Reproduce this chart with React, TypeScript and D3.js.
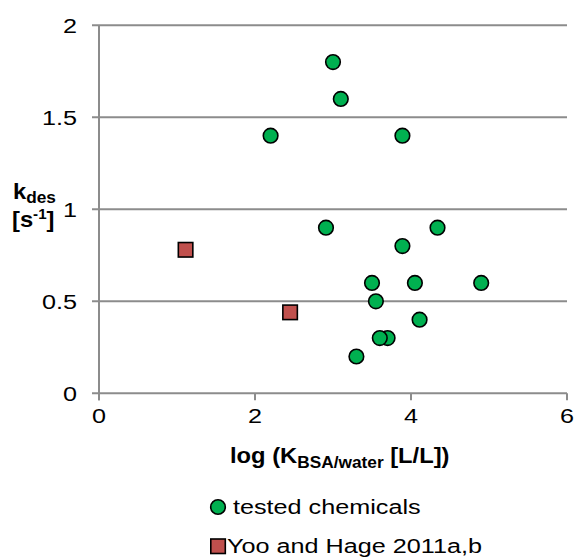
import React from "react";
import * as d3 from "d3";

// Tested chemicals: log K(BSA/water) vs desorption rate constant
const testedX = [3.0, 3.1, 2.2, 3.89, 2.91, 4.34, 3.89, 3.5, 4.05, 4.9, 3.55, 4.11, 3.7, 3.6, 3.3];
const testedY = [1.8, 1.6, 1.4, 1.4, 0.9, 0.9, 0.8, 0.6, 0.6, 0.6, 0.5, 0.4, 0.3, 0.3, 0.2];

// Literature values (Yoo and Hage 2011a,b)
const yooX = [1.11, 2.45];
const yooY = [0.78, 0.44];

const xTicks = [0, 2, 4, 6];
const yTicks = [0, 0.5, 1, 1.5, 2];
const yTickLabels = ["0", "0.5", "1", "1.5", "2"];

const legendLabels = ["tested chemicals", "Yoo and Hage 2011a,b"];

const W = 576;
const H = 558;
const FONT = "'Liberation Sans', Arial, sans-serif";
const AXIS = "#8c8c8c";
const SX = 1.2; // wide rendering of the regular labels

function Wide({ x, y, sx = SX, children }: { x: number; y: number; sx?: number; children: React.ReactNode }) {
  return <g transform={`translate(${x},${y}) scale(${sx},1)`}>{children}</g>;
}

export default function App() {
  const x = d3.scaleLinear().domain([0, 6]).range([99, 567]);
  const y = d3.scaleLinear().domain([0, 2]).range([393.3, 25.3]);

  const tested = testedX.map((v, i) => ({ x: v, y: testedY[i] }));
  const yoo = yooX.map((v, i) => ({ x: v, y: yooY[i] }));
  const sq = 14.5;

  return (
    <svg
      width={W}
      height={H}
      style={{ position: "absolute", left: 0, top: 0, background: "#fff" }}
      fontFamily={FONT}
    >
      <rect width={W} height={H} fill="#fff" />
      {/* horizontal gridlines */}
      {yTicks.map((t) => (
        <line key={"g" + t} x1={92} x2={x(6)} y1={y(t)} y2={y(t)} stroke={AXIS} strokeWidth={2} />
      ))}
      {/* y axis */}
      <line x1={x(0)} x2={x(0)} y1={y(2)} y2={y(0) + 7} stroke={AXIS} strokeWidth={2} />
      {/* x ticks */}
      {xTicks.map((t) => (
        <line key={"xt" + t} x1={x(t)} x2={x(t)} y1={y(0)} y2={y(0) + 7} stroke={AXIS} strokeWidth={2} />
      ))}
      {/* y tick labels */}
      {yTicks.map((t, i) => (
        <Wide key={"yl" + t} x={77} y={y(t) + 8}>
          <text textAnchor="end" fontSize={21} fill="#000">
            {yTickLabels[i]}
          </text>
        </Wide>
      ))}
      {/* x tick labels */}
      {xTicks.map((t) => (
        <Wide key={"xl" + t} x={x(t)} y={423}>
          <text textAnchor="middle" fontSize={21} fill="#000">
            {t}
          </text>
        </Wide>
      ))}
      {/* x axis title */}
      <Wide x={230} y={462.5} sx={1.08}>
        <text fontSize={22} fontWeight="bold" fill="#000">
          log (K
          <tspan fontSize={16} dy={5}>BSA/water</tspan>
          <tspan dy={-5}> [L/L])</tspan>
        </text>
      </Wide>
      {/* y axis title */}
      <Wide x={13} y={198.5} sx={1.08}>
        <text fontSize={22} fontWeight="bold" fill="#000">
          k<tspan fontSize={16} dy={4}>des</tspan>
        </text>
      </Wide>
      <Wide x={12} y={227} sx={1.08}>
        <text fontSize={22} fontWeight="bold" fill="#000">
          [s<tspan fontSize={14} dy={-8}>-1</tspan>
          <tspan dy={8}>]</tspan>
        </text>
      </Wide>
      {/* literature points */}
      {yoo.map((d, i) => (
        <rect
          key={"s" + i}
          x={x(d.x) - sq / 2}
          y={y(d.y) - sq / 2}
          width={sq}
          height={sq}
          fill="#C0504D"
          stroke="#000"
          strokeWidth={1.6}
        />
      ))}
      {/* tested chemicals */}
      {tested.map((d, i) => (
        <circle
          key={"c" + i}
          cx={x(d.x)}
          cy={y(d.y)}
          r={7.3}
          fill="#00B050"
          stroke="#000"
          strokeWidth={1.6}
        />
      ))}
      {/* legend */}
      <circle cx={218} cy={507} r={7.3} fill="#00B050" stroke="#000" strokeWidth={1.6} />
      <Wide x={233} y={514}>
        <text fontSize={21} fill="#000">
          {legendLabels[0]}
        </text>
      </Wide>
      <rect x={210.8} y={539} width={14.5} height={14.5} fill="#C0504D" stroke="#000" strokeWidth={1.6} />
      <Wide x={227} y={553}>
        <text fontSize={21} fill="#000">
          {legendLabels[1]}
        </text>
      </Wide>
    </svg>
  );
}
